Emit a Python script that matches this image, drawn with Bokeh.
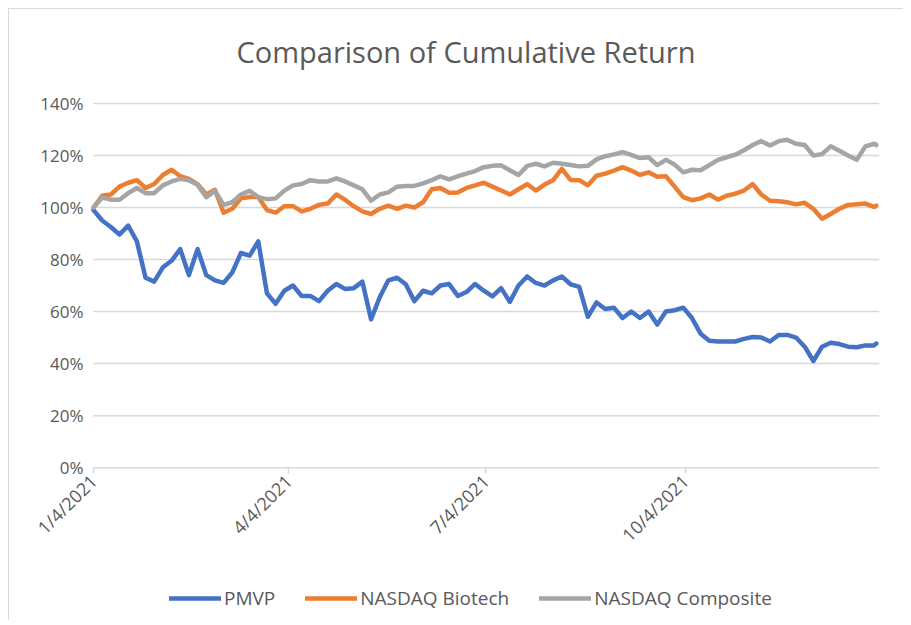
import pandas as pd
from bokeh.plotting import figure
from bokeh.models import FixedTicker, Legend, LegendItem, Range1d, PrintfTickFormatter, Title
from bokeh.embed import file_html
from bokeh.resources import INLINE

# ---- data ----
start_date = "2021-01-04"
end_date = "2022-01-01 12:00"
dates = list(pd.date_range(start_date, periods=91, freq="4D")) + [pd.Timestamp("2021-12-31")]

pmvp = [99, 95, 92.5, 89.6, 93, 87, 73, 71.5, 77, 79.5,
        84, 74, 84, 74, 72, 71, 75, 82.5, 81.5, 87,
        67, 63, 68, 70, 66, 66, 64, 68, 70.6, 68.7,
        69, 71.5, 57, 65.5, 72, 73, 70.5, 64, 68, 67,
        70, 70.6, 66, 67.5, 70.6, 68, 65.8, 69, 63.7, 70,
        73.5, 71, 70, 72, 73.5, 70.5, 69.5, 58, 63.5, 61,
        61.5, 57.5, 60, 57.5, 60, 55, 60, 60.5, 61.5, 57.5,
        51.5, 48.8, 48.5, 48.5, 48.5, 49.5, 50.2, 50, 48.5, 51,
        51, 50, 46.5, 41, 46.5, 48, 47.5, 46.5, 46.3, 47,
        47, 47.7]

biotech = [100, 104.5, 105, 108, 109.5, 110.5, 107.5, 109, 112.5, 114.5,
           112, 111, 109, 105, 106.8, 98, 99.5, 103.5, 104, 104,
           99, 98, 100.5, 100.5, 98.5, 99.5, 101, 101.5, 105, 103,
           100.5, 98.5, 97.5, 99.5, 100.7, 99.5, 100.7, 100, 102, 107,
           107.5, 105.7, 105.8, 107.5, 108.5, 109.5, 108, 106.5, 105, 107,
           109, 106.5, 108.8, 110.5, 114.8, 110.6, 110.5, 108.5, 112.2, 113,
           114.2, 115.5, 114.2, 112.5, 113.5, 111.8, 112, 108, 104, 102.8,
           103.5, 105, 103, 104.5, 105.3, 106.5, 109, 105, 102.6, 102.4,
           102, 101.2, 101.8, 99.5, 95.7, 97.5, 99.5, 101, 101.2, 101.5,
           100.2, 100.7]

composite = [100, 103.8, 103, 103, 105.5, 107.5, 105.5, 105.5, 108.5, 110,
             111, 110.5, 108.7, 104, 106.4, 101, 102, 105, 106.4, 104,
             103.2, 103.5, 106.5, 108.5, 109, 110.5, 110, 110, 111.2, 110,
             108.5, 107, 102.6, 105, 105.8, 108, 108.3, 108.3, 109.3, 110.5,
             112, 110.8, 112, 113, 114, 115.5, 116, 116.2, 114.3, 112.5,
             116, 116.8, 115.8, 117.2, 116.8, 116.3, 115.8, 116, 118.5, 119.7,
             120.4, 121.3, 120.2, 119, 119.3, 116.3, 118.3, 116.5, 113.5, 114.5,
             114.3, 116.3, 118.3, 119.3, 120.3, 122, 124, 125.5, 123.8, 125.5,
             126, 124.5, 124, 120, 120.5, 123.5, 121.8, 120, 118.3, 123.5,
             124.5, 124]

series_names = ["PMVP", "NASDAQ Biotech", "NASDAQ Composite"]
series_colors = ["#4472C4", "#ED7D31", "#A5A5A5"]

tick_dates = ["2021-01-04", "2021-04-04", "2021-07-04", "2021-10-04"]
tick_labels = ["1/4/2021", "4/4/2021", "7/4/2021", "10/4/2021"]
y_ticks = [0, 20, 40, 60, 80, 100, 120, 140]

FONT = "Open Sans"
TXT = "#595959"
GRID = "#D9D9D9"

# layout: the frame is widened around the data area so that tick labels and the
# legend (drawn inside it) are not clipped; data area = start_date..end_date, 0..140%
PLOT_W = 786          # pixel width of the data area
PLOT_H = 367          # pixel height of 0..140%
LEFT_PAD = 74         # pixels left of the data area kept inside the frame
BOTTOM_PAD = 155      # pixels below 0% kept inside the frame
TOP_PAD = 12          # pixels above 140% kept inside the frame

x_start = pd.Timestamp(start_date)
x_end = pd.Timestamp(end_date)
span = x_end - x_start
frame_x0 = x_start - span * (LEFT_PAD / PLOT_W)
y_top = y_ticks[-1]
frame_y0 = -y_top * BOTTOM_PAD / PLOT_H
frame_y1 = y_top + y_top * TOP_PAD / PLOT_H

p = figure(width=895, height=612, x_axis_type="datetime",
           output_backend="svg", toolbar_location=None,
           min_border_left=10, min_border_right=25,
           min_border_top=78, min_border_bottom=0)
p.styles = {"margin-left": "8px", "margin-top": "8px",
            "border-left": "1px solid #D9D9D9", "border-top": "1px solid #D9D9D9"}

p.x_range = Range1d(frame_x0, x_end)
p.y_range = Range1d(frame_y0, frame_y1)

# horizontal gridlines (and 0% axis line) across the data area only
n = len(y_ticks)
p.segment(x0=[x_start] * n, y0=y_ticks, x1=[x_end] * n, y1=y_ticks,
          line_color=GRID, line_width=1.5)

renderers = []
for vals, name, col in zip([pmvp, biotech, composite], series_names, series_colors):
    r = p.line(dates, vals, line_color=col, line_width=4.5, line_join="round", line_cap="round")
    renderers.append(r)

# axes
tick_ms = [pd.Timestamp(d).value // 10**6 for d in tick_dates]
p.xaxis.fixed_location = 0
p.xaxis.ticker = FixedTicker(ticks=tick_ms)
p.xaxis.major_label_overrides = {t: l for t, l in zip(tick_ms, tick_labels)}
p.xaxis.major_label_orientation = 0.785398
p.xaxis.axis_line_color = None
p.xaxis.major_tick_line_color = GRID
p.xaxis.major_tick_line_width = 1.5
p.xaxis.major_tick_in = 0
p.xaxis.major_tick_out = 6
p.xaxis.minor_tick_line_color = None
p.xaxis.major_label_text_font = FONT
p.xaxis.major_label_text_font_size = "18px"
p.xaxis.major_label_text_color = TXT
p.xaxis.major_label_standoff = 4

p.yaxis.fixed_location = x_start.value // 10**6
p.yaxis.ticker = FixedTicker(ticks=y_ticks)
p.yaxis.formatter = PrintfTickFormatter(format="%d%%")
p.yaxis.axis_line_color = None
p.yaxis.major_tick_line_color = None
p.yaxis.minor_tick_line_color = None
p.yaxis.major_label_text_font = FONT
p.yaxis.major_label_text_font_size = "17px"
p.yaxis.major_label_text_color = TXT
p.yaxis.major_label_standoff = 4

p.xgrid.grid_line_color = None
p.ygrid.grid_line_color = None
p.outline_line_color = None

p.title = Title(text="Comparison of Cumulative Return", align="left",
                text_font=FONT, text_font_size="29px", text_font_style="normal",
                text_color=TXT, offset=217, standoff=41)

legend = Legend(items=[LegendItem(label=n_, renderers=[r]) for n_, r in zip(series_names, renderers)],
                orientation="horizontal", location=(150, 10),
                label_text_font=FONT, label_text_font_size="19px", label_text_color=TXT,
                glyph_width=52, glyph_height=18, label_standoff=3, spacing=30,
                padding=0, margin=0,
                background_fill_alpha=0, border_line_color=None)
p.add_layout(legend, "center")

open("out.html", "w").write(file_html(p, INLINE))
